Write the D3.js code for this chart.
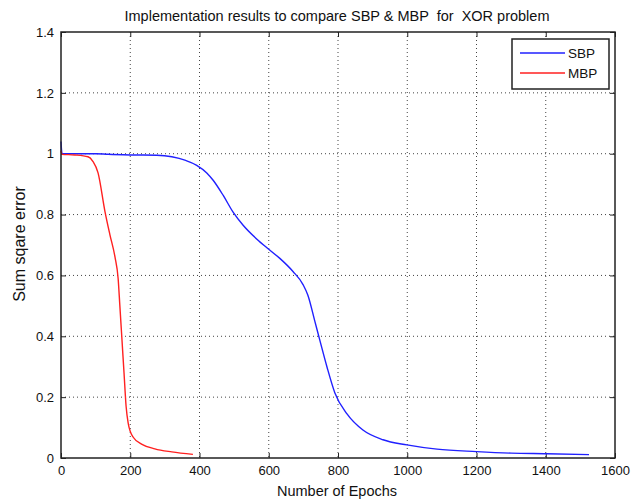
<!DOCTYPE html>
<html><head><meta charset="utf-8">
<script src="https://cdn.jsdelivr.net/npm/d3@7"></script>
<style>body{margin:0;background:#fff;} text{font-family:"Liberation Sans",Arial,sans-serif;fill:#111;white-space:pre;}</style>
</head><body>
<svg id="c" width="640" height="500"></svg>
<script>
const title = "Implementation results to compare SBP & MBP  for  XOR problem";
const xLabel = "Number of Epochs";
const yLabel = "Sum sqare error";
const xTicks = [0,200,400,600,800,1000,1200,1400,1600];
const yTicks = [0,0.2,0.4,0.6,0.8,1,1.2,1.4];
const seriesNames = ["SBP","MBP"];
const seriesColors = ["#2020ff","#ff2020"];
const sbpEpochs = [0,3,100,136,200,277,320,360,392,421,440,469,497,526,565,600,632,670,699,713,733,748,768,791,826,872,930,999,1086,1200,1300,1403,1525];
const sbpValues = [1.04,1.0,1.0,0.998,0.996,0.995,0.99,0.978,0.962,0.937,0.912,0.862,0.808,0.765,0.72,0.686,0.656,0.613,0.57,0.535,0.45,0.385,0.30,0.214,0.145,0.092,0.06,0.043,0.029,0.021,0.016,0.014,0.011];
const mbpEpochs = [0,3,40,78,92,107,127,141,156,165,170,176,182,188,194,208,234,271,320,381];
const mbpValues = [1.01,0.998,0.996,0.99,0.975,0.937,0.81,0.735,0.66,0.59,0.5,0.39,0.28,0.17,0.115,0.069,0.045,0.03,0.02,0.012];

const svg = d3.select("#c");
const L=61,R=615,T=32,B=458;
const x = d3.scaleLinear().domain([0,1600]).range([L,R]);
const y = d3.scaleLinear().domain([0,1.4]).range([B,T]);

// grid
const g = svg.append("g");
g.selectAll(".gx").data(xTicks.slice(1,-1)).enter().append("line")
 .attr("x1",d=>x(d)).attr("x2",d=>x(d)).attr("y1",T).attr("y2",B)
 .attr("stroke","#444").attr("stroke-width",1).attr("stroke-dasharray","1,3");
g.selectAll(".gy").data(yTicks.slice(1,-1)).enter().append("line")
 .attr("y1",d=>y(d)).attr("y2",d=>y(d)).attr("x1",L).attr("x2",R)
 .attr("stroke","#444").attr("stroke-width",1).attr("stroke-dasharray","1,3");

// axes
const ax = svg.append("g").attr("transform",`translate(0,${B})`)
 .call(d3.axisBottom(x).tickValues(xTicks).tickSize(-5).tickPadding(8).tickFormat(d3.format("d")));
const axT = svg.append("g").attr("transform",`translate(0,${T})`)
 .call(d3.axisTop(x).tickValues(xTicks).tickSize(-5).tickFormat(""));
const ay = svg.append("g").attr("transform",`translate(${L},0)`)
 .call(d3.axisLeft(y).tickValues(yTicks).tickSize(-5).tickPadding(7).tickFormat(d=>d===0||d===1?String(d):d3.format(".1f")(d)));
const ayR = svg.append("g").attr("transform",`translate(${R},0)`)
 .call(d3.axisRight(y).tickValues(yTicks).tickSize(-5).tickFormat(""));
[ax,axT,ay,ayR].forEach(a=>{a.select(".domain").remove();a.selectAll("line").attr("stroke","#222");});
[ax,ay].forEach(a=>a.selectAll("text").attr("font-size",13).attr("fill","#111").style("font-family","'Liberation Sans',Arial,sans-serif"));

// lines
const line = d3.line().x(d=>x(d[0])).y(d=>y(d[1])).curve(d3.curveMonotoneX);
const sbp = sbpEpochs.map((e,i)=>[e,sbpValues[i]]);
const mbp = mbpEpochs.map((e,i)=>[e,mbpValues[i]]);
svg.append("path").attr("d",line(sbp)).attr("fill","none").attr("stroke",seriesColors[0]).attr("stroke-width",1.4);
svg.append("path").attr("d",line(mbp)).attr("fill","none").attr("stroke",seriesColors[1]).attr("stroke-width",1.4);

// frame
svg.append("rect").attr("x",L).attr("y",T).attr("width",R-L).attr("height",B-T)
 .attr("fill","none").attr("stroke","#222").attr("stroke-width",1.5);

// title & labels
svg.append("text").attr("x",337).attr("y",21).attr("text-anchor","middle").attr("font-size",14.5).text(title);
svg.append("text").attr("x",337).attr("y",496).attr("text-anchor","middle").attr("font-size",14.5).text(xLabel);
svg.append("text").attr("transform","translate(25,244) rotate(-90)").attr("text-anchor","middle").attr("font-size",16).text(yLabel);

// legend
const lg = svg.append("g");
lg.append("rect").attr("x",512).attr("y",39).attr("width",97).attr("height",50).attr("fill","#fff").attr("stroke","#222").attr("stroke-width",1.5);
seriesNames.forEach((n,i)=>{
  const yy = 53 + i*20;
  lg.append("line").attr("x1",520).attr("x2",565).attr("y1",yy).attr("y2",yy).attr("stroke",seriesColors[i]).attr("stroke-width",1.4);
  lg.append("text").attr("x",568).attr("y",yy+5).attr("font-size",13.5).text(n);
});
</script>
</body></html>
